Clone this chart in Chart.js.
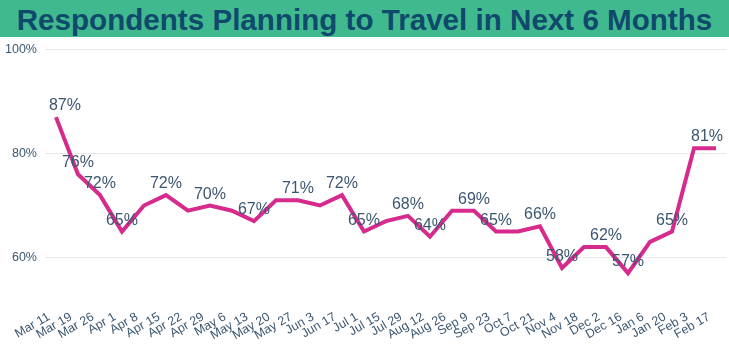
<!DOCTYPE html>
<html>
<head>
<meta charset="utf-8">
<script src="https://cdn.jsdelivr.net/npm/chart.js@4/dist/chart.umd.min.js"></script>
<style>
  html, body { margin: 0; padding: 0; background: #fff; overflow: hidden; }
  #banner {
    position: relative; z-index: 2;
    height: 37px; background: #41b98f; color: #0f4a6c;
    font: bold 29.6px "Liberation Sans", Arial, sans-serif;
    text-align: center; line-height: 39px; white-space: nowrap;
  }
  /* nudged so the plot area lines up with the original */
  #wrap { position: relative; width: 737px; height: 318.5px; margin: -3.5px 0 0 -8px; }
</style>
</head>
<body>
<div id="banner">Respondents Planning to Travel in Next 6 Months</div>
<div id="wrap"><canvas id="travelChart"></canvas></div>
<script>
var weeks = ['Mar 11', 'Mar 19', 'Mar 26', 'Apr 1', 'Apr 8', 'Apr 15', 'Apr 22', 'Apr 29',
    'May 6', 'May 13', 'May 20', 'May 27', 'Jun 3', 'Jun 17', 'Jul 1', 'Jul 15', 'Jul 29',
    'Aug 12', 'Aug 26', 'Sep 9', 'Sep 23', 'Oct 7', 'Oct 21', 'Nov 4', 'Nov 18', 'Dec 2',
    'Dec 16', 'Jan 6', 'Jan 20', 'Feb 3', 'Feb 17'];
var planning = [87, 76, 72, 65, 70, 72, 69, 70, 69, 67, 71, 71, 70, 72, 65, 67, 68,
    64, 69, 69, 65, 65, 66, 58, 62, 62, 57, 63, 65, 81, 81];
// which points carry a value label in the original
var labelled = [1, 1, 1, 1, 0, 1, 0, 1, 0, 1, 0, 1, 0, 1, 1, 0, 1,
    1, 0, 1, 1, 0, 1, 1, 0, 1, 1, 0, 1, 0, 1];
var yTicks = [60, 80, 100];

var textColor = '#3b566f';
var fontFamily = '"Liberation Sans", Arial, sans-serif';

// value labels above the line, kept inside the plot area
var pointLabels = {
    id: 'pointLabels',
    afterDatasetsDraw: function(chart) {
        var ctx = chart.ctx;
        var area = chart.chartArea;
        var meta = chart.getDatasetMeta(0);
        ctx.save();
        ctx.font = '16px ' + fontFamily;
        ctx.fillStyle = textColor;
        ctx.textBaseline = 'alphabetic';
        ctx.textAlign = 'left';
        meta.data.forEach(function(pt, i) {
            if (!labelled[i]) return;
            var txt = planning[i] + '%';
            var w = ctx.measureText(txt).width;
            var x = pt.x - w / 2;
            if (x < area.left + 4) x = area.left + 4;
            if (x + w > area.right - 4) x = area.right - 4 - w;
            ctx.fillText(txt, x, pt.y - 7);
        });
        ctx.restore();
    }
};

var ctx = document.getElementById('travelChart').getContext('2d');
var travelChart = new Chart(ctx, {
    type: 'line',
    data: {
        labels: weeks,
        datasets: [{
            data: planning,
            borderColor: '#d62b8d',
            borderWidth: 4,
            pointRadius: 0,
            tension: 0,
            fill: false
        }]
    },
    options: {
        responsive: true,
        maintainAspectRatio: false,
        animation: false,
        layout: { padding: { left: 5, right: 2, top: 0, bottom: 9.5 } },
        plugins: {
            legend: { display: false },
            tooltip: { enabled: false }
        },
        scales: {
            x: {
                offset: true,
                grid: { display: false, drawTicks: false },
                border: { display: false },
                ticks: {
                    color: textColor,
                    font: { family: fontFamily, size: 12.5 },
                    minRotation: 30,
                    maxRotation: 30,
                    autoSkip: false,
                    labelOffset: -7,
                    padding: 0
                }
            },
            y: {
                min: 50,
                max: 100,
                afterBuildTicks: function(axis) {
                    axis.ticks = yTicks.map(function(v) { return { value: v }; });
                },
                grid: { color: '#e9e9e9', lineWidth: 1, drawTicks: false },
                border: { display: false },
                ticks: {
                    color: textColor,
                    font: { family: fontFamily, size: 12.5 },
                    padding: 8,
                    callback: function(v) { return v + '%'; }
                }
            }
        }
    },
    plugins: [pointLabels]
});
</script>
</body>
</html>
